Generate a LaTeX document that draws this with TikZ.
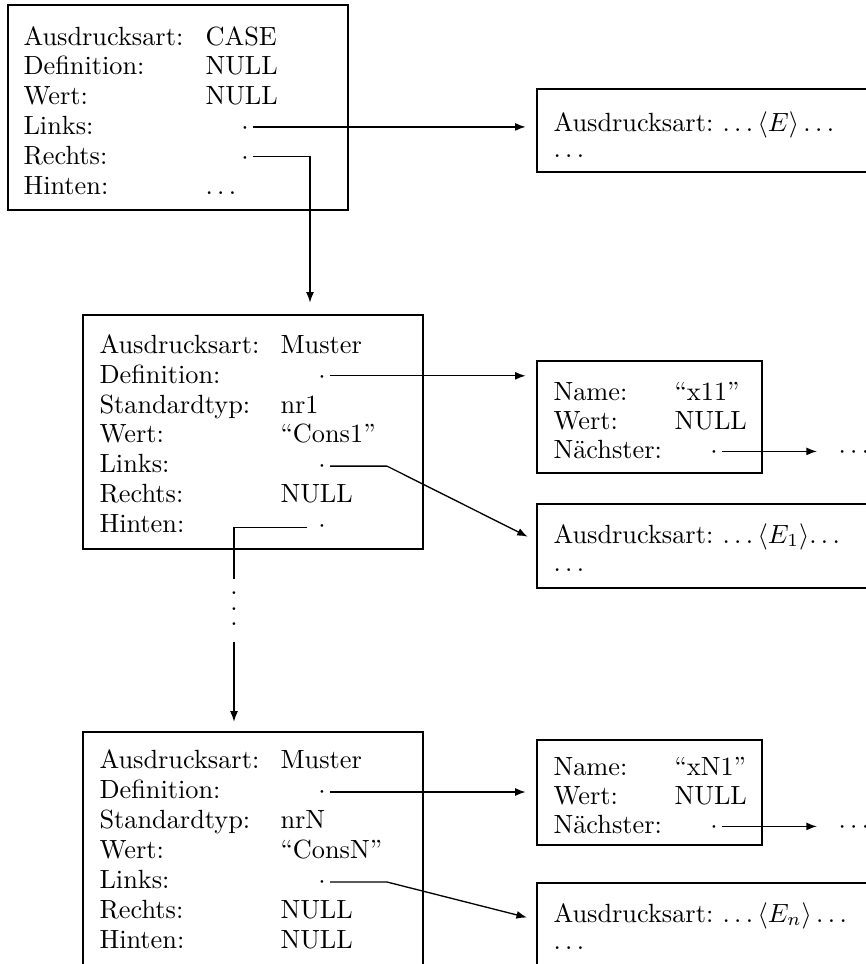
\documentclass[tikz,border=0pt]{standalone}
\usetikzlibrary{arrows.meta,fit}
\begin{document}
\begin{tikzpicture}[x=0.38pt,y=-0.38pt,
  box/.style={draw, line width=1pt, inner sep=0pt},
  txt/.style={anchor=base west, inner sep=0pt},
  dotn/.style={anchor=base, inner sep=0pt},
  conn/.style={line width=0.5pt},
  arr/.style={conn, -{Latex[length=4pt,width=3pt]}}]
\useasboundingbox (0,0) rectangle (866,964);
\clip (0,0) rectangle (866,964);

% ---------- boxes ----------
\node[box, fit={(8,5) (348,210)}] (A) {};
\node[box, fit={(537,89) (900,172)}] (B) {};
\node[box, fit={(83,315) (423,549)}] (C) {};
\node[box, fit={(537,361) (762,473)}] (D) {};
\node[box, fit={(537,504) (900,588)}] (E) {};
\node[box, fit={(83,732) (423,1000)}] (F) {};
\node[box, fit={(537,740) (762,845)}] (G) {};
\node[box, fit={(537,883) (900,1000)}] (H) {};

% ---------- box A ----------
\node[txt] (a1) at (23,45) {Ausdrucksart:};
\node[txt] (a2) at (23,74.8) {Definition:};
\node[txt] (a3) at (23,104.6) {Wert:};
\node[txt] (a4) at (23,134.4) {Links:};
\node[txt] (a5) at (23,164.2) {Rechts:};
\node[txt] (a6) at (23,194) {Hinten:};
\node[txt] (a1v) at (205,45) {CASE};
\node[txt] (a2v) at (205,74.8) {NULL};
\node[txt] (a3v) at (205,104.6) {NULL};
\node[dotn] (aL) at (245,134.4) {$\cdot$};
\node[dotn] (aR) at (245,164.2) {$\cdot$};
\node[txt] (a6v) at (205,194) {$\ldots$};

% ---------- box B ----------
\node[txt] (b1) at (553,131.5) {Ausdrucksart:};
\node[txt] (b1v) at (722,131.5) {$\ldots\langle E\rangle\ldots$};
\node[txt] (b2) at (553,157) {$\ldots$};

% ---------- box C ----------
\node[txt] (c1) at (99,353.5) {Ausdrucksart:};
\node[txt] (c2) at (99,383.3) {Definition:};
\node[txt] (c3) at (99,413.1) {Standardtyp:};
\node[txt] (c4) at (99,442.9) {Wert:};
\node[txt] (c5) at (99,472.7) {Links:};
\node[txt] (c6) at (99,502.5) {Rechts:};
\node[txt] (c7) at (99,532.3) {Hinten:};
\node[txt] (c1v) at (280,353.5) {Muster};
\node[dotn] (cD) at (322,383.3) {$\cdot$};
\node[txt] (c3v) at (280,413.1) {nr1};
\node[txt] (c4v) at (280,442.9) {“Cons1”};
\node[dotn] (cL) at (322,472.7) {$\cdot$};
\node[txt] (c6v) at (280,502.5) {NULL};
\node[dotn] (cH) at (322,532.3) {$\cdot$};

% ---------- box D ----------
\node[txt] (d1) at (553,400) {Name:};
\node[txt] (d2) at (553,429) {Wert:};
\node[txt] (d3) at (553,458) {Nächster:};
\node[txt] (d1v) at (674,400) {“x11”};
\node[txt] (d2v) at (674,429) {NULL};
\node[dotn] (dN) at (714,458) {$\cdot$};
\node[txt] (dd1) at (838,458) {$\cdots$};

% ---------- box E ----------
\node[txt] (e1) at (553,543) {Ausdrucksart:};
\node[txt] (e1v) at (722,543) {$\ldots\langle E_1\rangle$$\ldots$};
\node[txt] (e2) at (553,571) {$\ldots$};

% ---------- vertical dots ----------
\node[inner sep=0pt] (vd) at (234,608.6)
  {\vbox{\baselineskip=5.9pt\lineskiplimit=-20pt\hbox{.}\hbox{.}\hbox{.}}};

% ---------- box F ----------
\node[txt] (f1) at (99,768.6) {Ausdrucksart:};
\node[txt] (f2) at (99,798.6) {Definition:};
\node[txt] (f3) at (99,828.6) {Standardtyp:};
\node[txt] (f4) at (99,858.6) {Wert:};
\node[txt] (f5) at (99,888.6) {Links:};
\node[txt] (f6) at (99,918.6) {Rechts:};
\node[txt] (f7) at (99,948.6) {Hinten:};
\node[txt] (f1v) at (280,768.6) {Muster};
\node[dotn] (fD) at (322,798.6) {$\cdot$};
\node[txt] (f3v) at (280,828.6) {nrN};
\node[txt] (f4v) at (280,858.6) {“ConsN”};
\node[dotn] (fL) at (322,888.6) {$\cdot$};
\node[txt] (f6v) at (280,918.6) {NULL};
\node[txt] (f7v) at (280,948.6) {NULL};

% ---------- box G ----------
\node[txt] (g1) at (553,775) {Name:};
\node[txt] (g2) at (553,804) {Wert:};
\node[txt] (g3) at (553,833) {Nächster:};
\node[txt] (g1v) at (674,775) {“xN1”};
\node[txt] (g2v) at (674,804) {NULL};
\node[dotn] (gN) at (714,833) {$\cdot$};
\node[txt] (gg1) at (838,833) {$\cdots$};

% ---------- box H ----------
\node[txt] (h1) at (553,922) {Ausdrucksart:};
\node[txt] (h1v) at (722,922) {$\ldots\langle E_n\rangle\ldots$};
\node[txt] (h2) at (553,949.5) {$\ldots$};

% ---------- connector start points ----------
\coordinate (aLs) at ([shift={(8,-7.5)}]aL.base);
\coordinate (aRs) at ([shift={(8,-7.5)}]aR.base);
\coordinate (cDs) at ([shift={(8,-7.5)}]cD.base);
\coordinate (cLs) at ([shift={(8,-6.6)}]cL.base);
\coordinate (cHs) at ([shift={(-15,-4.5)}]cH.base);
\coordinate (dNs) at ([shift={(8,-6.6)}]dN.base);
\coordinate (fDs) at ([shift={(8,-6.6)}]fD.base);
\coordinate (fLs) at ([shift={(8,-6.6)}]fL.base);
\coordinate (gNs) at ([shift={(8,-6.6)}]gN.base);

% ---------- connectors ----------
\draw[arr, shorten >=3.8pt] (aLs) -- (aLs -| B.west);
\draw[arr, shorten >=4.2pt] (aRs) -| ([xshift=21.66pt]C.north);
\draw[arr, shorten >=3.8pt] (cDs) -- (cDs -| D.west);
\draw[arr, shorten >=3.4pt] (cLs) -- ++(57,0) -- ([shift={(0,38)}]E.north west);
\draw[conn, shorten >=4.45pt] (cHs) -| (vd.north);
\draw[arr, shorten <=5.9pt, shorten >=3.4pt] (vd.south) -- (vd.south |- F.north);
\draw[arr, shorten >=8pt] (dNs) -- (dNs -| dd1.west);
\draw[arr, shorten >=3.8pt] (fDs) -- (fDs -| G.west);
\draw[arr, shorten >=3.4pt] (fLs) -- ++(57,0) -- ([shift={(0,38)}]H.north west);
\draw[arr, shorten >=8pt] (gNs) -- (gNs -| gg1.west);
\end{tikzpicture}
\end{document}
